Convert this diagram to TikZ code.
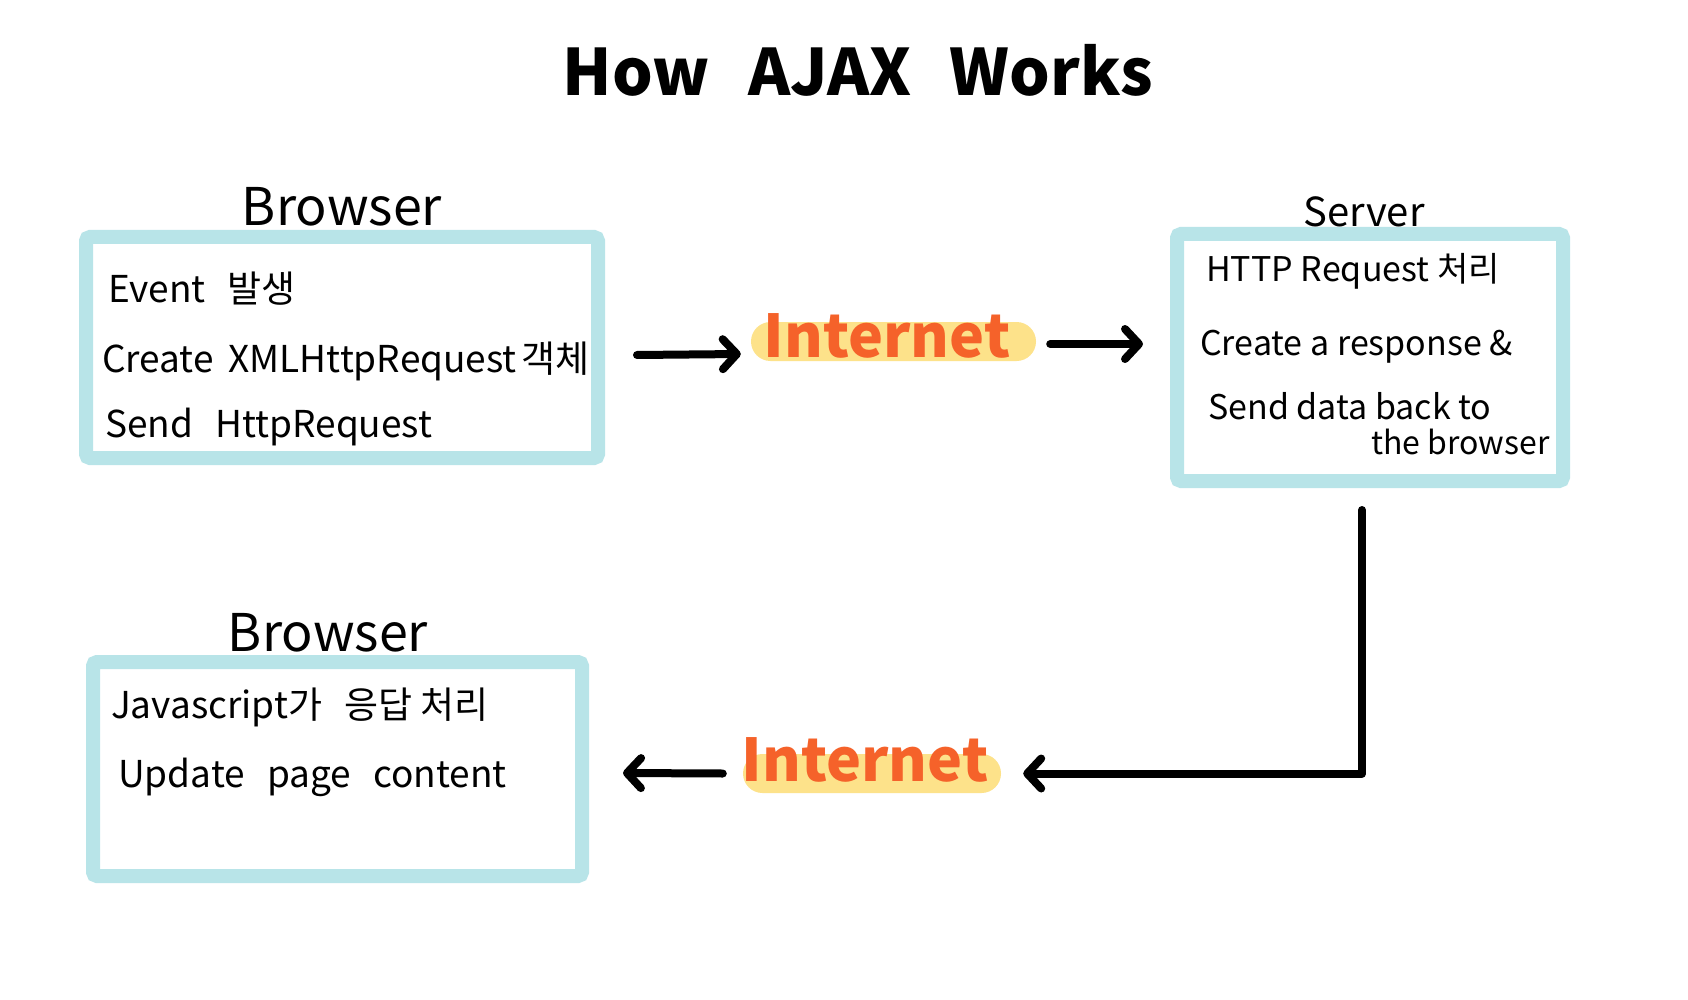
\documentclass[tikz,border=0pt]{standalone}
\usepackage{fontspec}
\setmainfont{Noto Sans CJK KR}
\usetikzlibrary{arrows.meta}
\definecolor{boxcyan}{HTML}{B8E4E8}
\definecolor{pillyellow}{HTML}{FDE28A}
\definecolor{inetorange}{HTML}{F5622A}
\begin{document}
\begin{tikzpicture}[x=1pt,y=-1pt,
  panel/.style={draw=boxcyan, line width=14pt, rounded corners=4pt, fill=white, inner sep=0pt},
  pill/.style={fill=pillyellow, rounded corners=19.5pt, minimum height=39pt, inner sep=0pt},
  inettext/.style={text=inetorange, inner sep=0pt, font=\fontsize{59}{62}\selectfont\bfseries},
  body/.style={anchor=west, inner sep=0pt, font=\fontsize{34}{40}\selectfont},
  bigbody/.style={body, font=\fontsize{37}{42}\selectfont},
  headtext/.style={inner sep=0pt, font=\fontsize{52}{58}\selectfont},
  arr/.style={line width=8pt, line cap=round, line join=round, -{Straight Barb[length=14pt,width=30pt,round]}}
]
\useasboundingbox[fill=white] (0,0) rectangle (1688,1000);

% title
\node[inner sep=0pt, font=\fontsize{64}{72}\selectfont\bfseries] (title) at (858,70) {How\hspace{0.6em}AJAX\hspace{0.6em}Works};

% top browser
\node[panel, minimum width=512pt, minimum height=221pt] (b1) at (342,347.5) {};
\node[headtext] (b1h) at (342,207) {Browser};
\node[bigbody] (b1t1) at (108,289) {Event\hspace{0.6em}발생};
\node[bigbody] (b1t2) at (102,361) {Create\hspace{0.4em}XMLHttpRequest\hspace{0.12em}객체};
\node[bigbody] (b1t3) at (105,427) {Send\hspace{0.6em}HttpRequest};

% server
\node[panel, minimum width=386pt, minimum height=247pt] (srv) at (1370,357.5) {};
\node[headtext, font=\fontsize{40}{46}\selectfont] (srvh) at (1364,212) {Server};
\node[body] (s1) at (1206,271) {HTTP Request 처리};
\node[body] (s2) at (1200,347) {Create a response \&};
\node[body] (s3) at (1208,406) {Send data back to};
\node[body, font=\fontsize{32}{38}\selectfont] (s4) at (1371,442) {the browser};

% bottom browser
\node[panel, minimum width=489pt, minimum height=214pt] (b2) at (337.5,769) {};
\node[headtext] (b2h) at (328,633) {Browser};
\node[bigbody] (b2t1) at (111,707) {Javascript가\hspace{0.6em}응답 처리};
\node[bigbody] (b2t2) at (118,777) {Update\hspace{0.6em}page\hspace{0.6em}content};

% internet pills
\node[pill, minimum width=285pt] (inet1) at (893.5,341.5) {};
\node[inettext] (inet1t) at (887,336) {Internet};
\node[pill, minimum width=258pt] (inet2) at (872,773.5) {};
\node[inettext] (inet2t) at (865,760) {Internet};

% connectors
\draw[arr] ([xshift=32pt,yshift=-7.5pt]b1.east) -- ([xshift=-10pt,yshift=-12.5pt]inet1.west);
\draw[arr] ([xshift=14pt,yshift=-2.5pt]inet1.east) -- ([xshift=-27pt,yshift=13.5pt]srv.west);
\coordinate (corner) at (1362,773.5);
\draw[arr] ([xshift=-8pt,yshift=-22pt]srv.south) -- (corner) -- ([xshift=22pt]inet2.east);
\draw[arr] ([xshift=-20pt]inet2.west) -- ([xshift=34pt,yshift=-4pt]b2.east);
\end{tikzpicture}
\end{document}
